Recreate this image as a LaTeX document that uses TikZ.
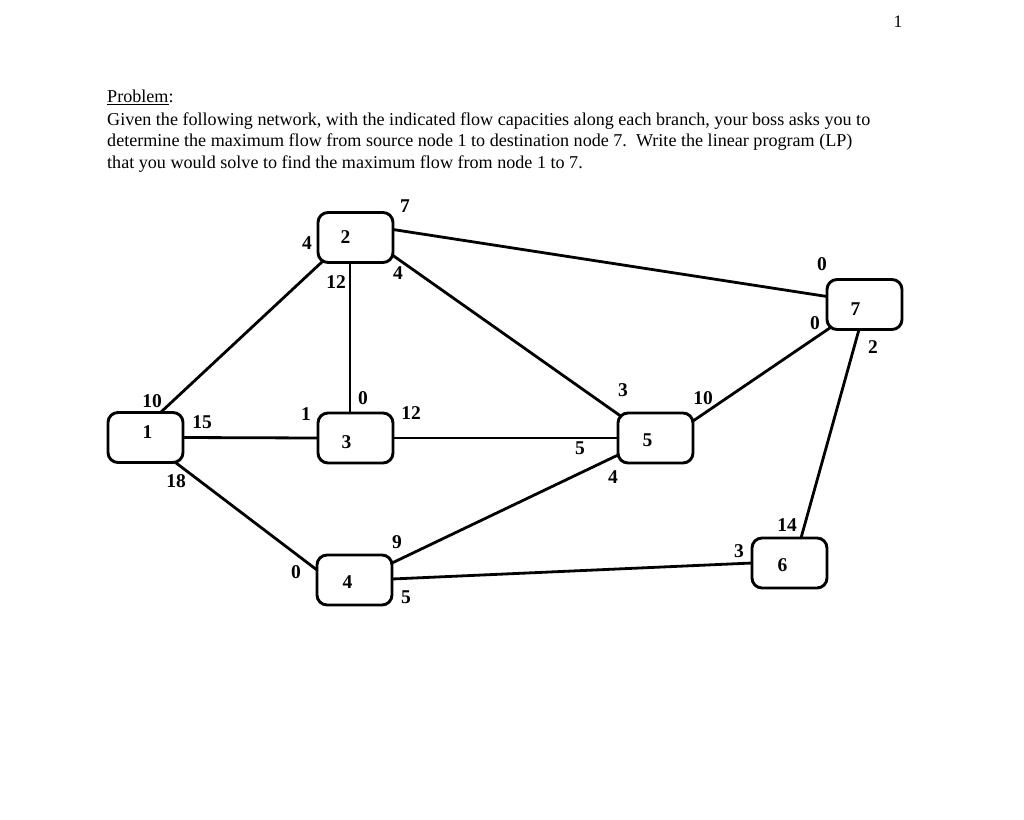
\documentclass[tikz,border=0pt]{standalone}
\usepackage{fontspec}
\setmainfont{Liberation Serif}
\usetikzlibrary{calc}
\begin{document}
\begin{tikzpicture}[x=1pt,y=-1pt,
  box/.style={draw,line width=2.9pt,rounded corners=10pt,fill=white,minimum width=75pt,minimum height=50pt,inner sep=0pt,outer sep=0pt},
  nlab/.style={font=\fontsize{19.5}{19}\selectfont\bfseries,inner sep=0pt},
  edge/.style={line width=2.8pt},
  body/.style={font=\fontsize{18.1}{21}\selectfont,anchor=base west,inner sep=0pt}]
\useasboundingbox (0,0) rectangle (1024,819);
% text
\node[font=\fontsize{17.5}{16}\selectfont,inner sep=0pt] (pg) at (898,22) {1};
\node[body] (t1) at (107,102.5) {\underline{Problem}:};
\node[body] (t2) at (107,125) {Given the following network, with the indicated flow capacities along each branch, your boss asks you to};
\node[body] (t3) at (107,146.5) {determine the maximum flow from source node 1 to destination node 7.\ \ Write the linear program (LP)};
\node[body] (t4) at (107,168) {that you would solve to find the maximum flow from node 1 to 7.};
% nodes
\node[box,label={[nlab,xshift=2pt,yshift=5pt]center:1}] (n1) at (145.5,437.5) {};
\node[box,label={[nlab,xshift=-10pt]center:2}] (n2) at (355.5,237.5) {};
\node[box,label={[nlab,xshift=-9pt,yshift=-4pt]center:3}] (n3) at (355.5,438) {};
\node[box,label={[nlab,xshift=-7pt,yshift=-2pt]center:4}] (n4) at (354.5,580) {};
\node[box,label={[nlab,xshift=-8pt,yshift=-2pt]center:5}] (n5) at (655.5,438) {};
\node[box,label={[nlab,xshift=-7pt,yshift=-2pt]center:6}] (n6) at (789.5,563) {};
\node[box,label={[nlab,xshift=-9pt,yshift=-5pt]center:7}] (n7) at (864.5,304.5) {};
% edges
\draw[edge] ($(n1.north)+(15,0)$) -- ($(n2.south)+(-32,-2)$);
\draw[edge] (n1.east) -- (n3.west);
\draw[edge] ($(n1.south)+(30,0)$) -- ($(n4.west)+(0,-10)$);
\draw[edge] ($(n2.south)+(-5.5,0)$) -- ($(n3.north)+(-5.5,0)$);
\draw[edge] ($(n2.east)+(0,-8)$) -- ($(n7.west)+(0,-8)$);
\draw[edge] ($(n2.east)+(0,18)$) -- ($(n5.north west)+(4,4)$);
\draw[edge] (n3.east) -- (n5.west);
\draw[edge] ($(n4.east)+(0,-17)$) -- ($(n5.west)+(0,17)$);
\draw[edge] ($(n4.east)+(0,-1)$) -- (n6.west);
\draw[edge] ($(n5.east)+(0,-17)$) -- ($(n7.south west)+(5,-3)$);
\draw[edge] ($(n6.north)+(11.5,0)$) -- ($(n7.south)+(-5.5,0)$);
% capacity labels
\node[nlab] (a1) at (405,206) {7};
\node[nlab] (a2) at (307,243) {4};
\node[nlab] (a3) at (336,282) {12};
\node[nlab] (a4) at (398,273) {4};
\node[nlab] (a5) at (152,401) {10};
\node[nlab] (a6) at (202,422) {15};
\node[nlab] (a7) at (176,481) {18};
\node[nlab] (a8) at (306,414) {1};
\node[nlab] (a9) at (363,398) {0};
\node[nlab] (a10) at (411,413) {12};
\node[nlab] (a11) at (623,390) {3};
\node[nlab] (a12) at (703,398) {10};
\node[nlab] (a13) at (580,448) {5};
\node[nlab] (a14) at (613,477) {4};
\node[nlab] (a15) at (397,542) {9};
\node[nlab] (a16) at (296,572) {0};
\node[nlab] (a17) at (406,597) {5};
\node[nlab] (a18) at (822,264) {0};
\node[nlab] (a19) at (815,323) {0};
\node[nlab] (a20) at (873,347) {2};
\node[nlab] (a21) at (787,525) {14};
\node[nlab] (a22) at (739,551) {3};
\end{tikzpicture}
\end{document}
